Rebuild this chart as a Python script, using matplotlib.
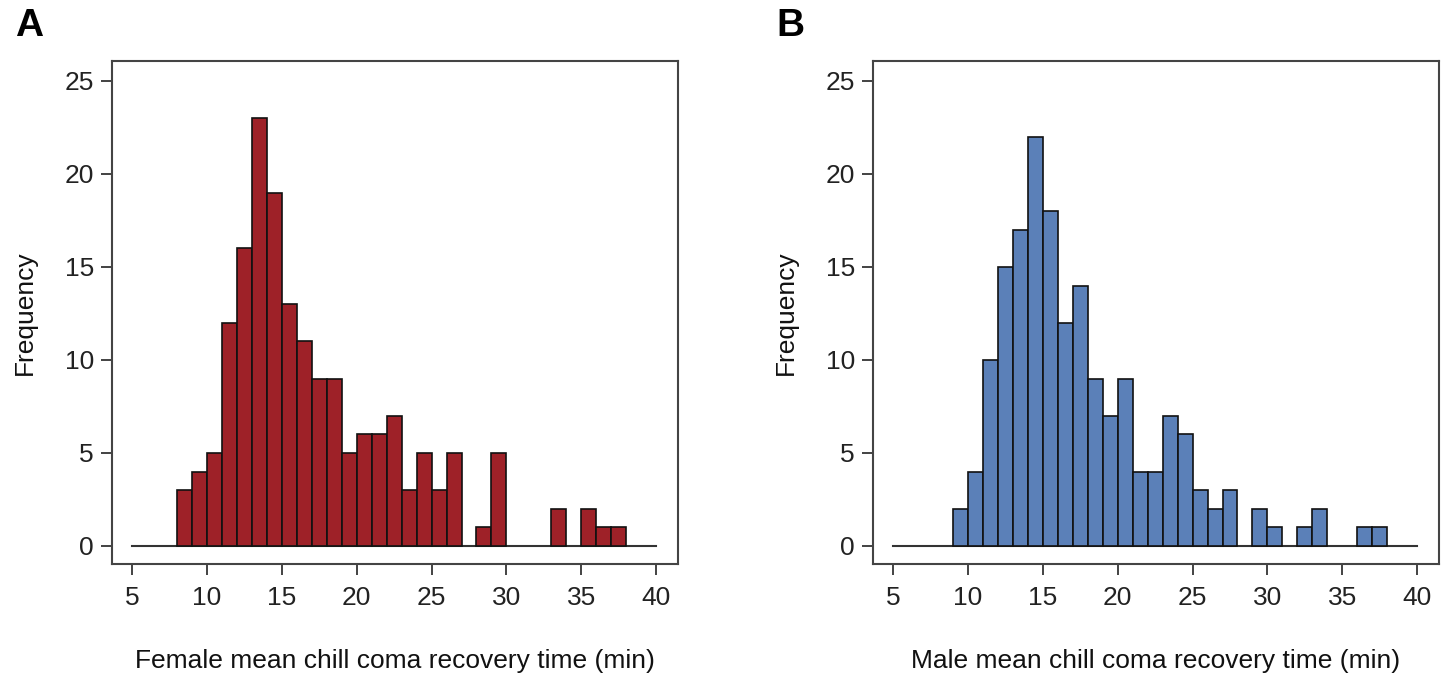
import numpy as np
import matplotlib.pyplot as plt

plt.rcParams["font.family"] = ["Liberation Sans", "DejaVu Sans"]

# ------------------------------------------------------------
# Histogram counts (1-minute bins)
# ------------------------------------------------------------
female_start = 8
female_counts = [3, 4, 5, 12, 16, 23, 19, 13, 11, 9, 9, 5, 6, 6, 7, 3, 5, 3, 5,
                 0, 1, 5, 0, 0, 0, 2, 0, 2, 1, 1]

male_start = 9
male_counts = [2, 4, 10, 15, 17, 22, 18, 12, 14, 9, 7, 9, 4, 4, 7, 6, 3, 2, 3,
               0, 2, 1, 0, 1, 2, 0, 0, 1, 1]

x_ticks = [5, 10, 15, 20, 25, 30, 35, 40]
y_ticks = [0, 5, 10, 15, 20, 25]

panels = [
    ("A", female_start, female_counts, "#9e2128",
     "Female mean chill coma recovery time (min)"),
    ("B", male_start, male_counts, "#5b80b8",
     "Male mean chill coma recovery time (min)"),
]

fig = plt.figure(figsize=(14.45, 6.74), dpi=100)

ax_left = [112 / 1445, 873 / 1445]
ax_bottom = (674 - 564) / 674
ax_w = 566 / 1445
ax_h = 503 / 674

for i, (tag, start, counts, color, xlabel) in enumerate(panels):
    ax = fig.add_axes([ax_left[i], ax_bottom, ax_w, ax_h])
    lefts = start + np.arange(len(counts))
    heights = np.array(counts)
    keep = heights > 0
    ax.bar(lefts[keep], heights[keep], width=1.0, align="edge",
           color=color, edgecolor="#111111", linewidth=1.2, zorder=3)
    ax.plot([5, 40], [0, 0], color="#333333", linewidth=1.5, zorder=2)

    ax.set_xlim(3.67, 41.45)
    ax.set_ylim(-0.97, 26.07)
    ax.set_xticks(x_ticks)
    ax.set_yticks(y_ticks)
    ax.tick_params(axis="both", direction="out", length=8, width=1.2,
                   colors="#222222", labelsize=19)
    ax.tick_params(axis="x", pad=8)
    ax.tick_params(axis="y", pad=5)
    for s in ax.spines.values():
        s.set_color("#444444")
        s.set_linewidth(1.5)

    ax.set_xlabel(xlabel, fontsize=19, labelpad=28, color="#111111")
    ax.set_ylabel("Frequency", fontsize=19, labelpad=20, color="#111111")

    fig.text(ax_left[i] - 97 / 1445, 1 - 26 / 674, tag, fontsize=28,
             fontweight="bold", ha="left", va="center")

fig.savefig("out.png", dpi=100)
